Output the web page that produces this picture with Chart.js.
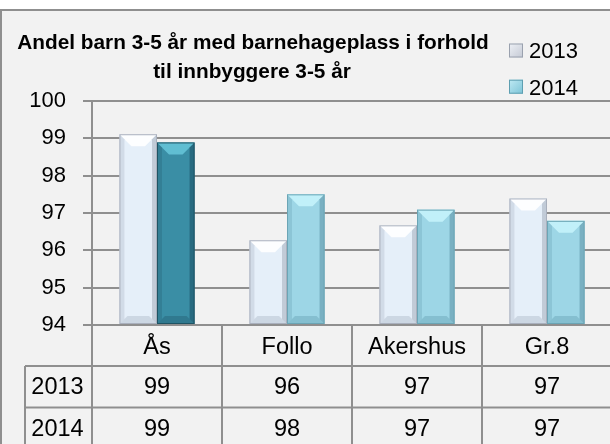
<!DOCTYPE html>
<html>
<head>
<meta charset="utf-8">
<script src="https://cdn.jsdelivr.net/npm/chart.js@4/dist/chart.umd.min.js"></script>
<style>
html,body{margin:0;padding:0;overflow:hidden;background:#fff;}
#wrap{width:612px;height:444px;position:relative;}
</style>
</head>
<body>
<div id="wrap"><canvas id="c"></canvas></div>
<script>
const categories = ['Ås', 'Follo', 'Akershus', 'Gr.8'];
const seriesNames = ['2013', '2014'];
const values2013 = [99.11, 96.27, 96.67, 97.39];
const values2014 = [98.89, 97.50, 97.09, 96.79];
const table2013 = ['99', '96', '97', '97'];
const table2014 = ['99', '98', '97', '97'];
const titleLines = ['Andel barn 3-5 år med barnehageplass i forhold', 'til innbyggere 3-5 år'];
const yMin = 94, yMax = 100, yStep = 1;

const GRID = '#8f8f8f';
const FONT = "'Liberation Sans', Arial, sans-serif";

const bgPlugin = {
  id: 'bg',
  beforeDraw(chart) {
    const ctx = chart.ctx, w = chart.width, h = chart.height;
    ctx.save();
    ctx.fillStyle = '#ffffff';
    ctx.fillRect(0, 0, w, h);
    ctx.fillStyle = '#f2f2f2';
    ctx.fillRect(0, 10, w, h - 10);
    ctx.strokeStyle = GRID;
    ctx.lineWidth = 2;
    ctx.beginPath();
    ctx.moveTo(0, 10); ctx.lineTo(w, 10);
    ctx.moveTo(1, 10); ctx.lineTo(1, h);
    ctx.stroke();
    ctx.restore();
  }
};

function bevel(ctx, L, R, T, B, topCol, leftCol, rightCol, botCol) {
  const t = Math.min(12, (B - T) / 2), s = 5, bb = 8;
  ctx.fillStyle = topCol;
  ctx.beginPath();
  ctx.moveTo(L, T); ctx.lineTo(R, T); ctx.lineTo(R - t, T + t); ctx.lineTo(L + t, T + t);
  ctx.closePath(); ctx.fill();
  ctx.fillStyle = leftCol;
  ctx.beginPath();
  ctx.moveTo(L, T); ctx.lineTo(L + s, T + s); ctx.lineTo(L + s, B - s); ctx.lineTo(L, B);
  ctx.closePath(); ctx.fill();
  ctx.fillStyle = rightCol;
  ctx.beginPath();
  ctx.moveTo(R, T); ctx.lineTo(R - s, T + s); ctx.lineTo(R - s, B - s); ctx.lineTo(R, B);
  ctx.closePath(); ctx.fill();
  ctx.fillStyle = botCol;
  ctx.beginPath();
  ctx.moveTo(L, B); ctx.lineTo(R, B); ctx.lineTo(R - bb, B - bb); ctx.lineTo(L + bb, B - bb);
  ctx.closePath(); ctx.fill();
}

const bevelPlugin = {
  id: 'bevel',
  afterDatasetsDraw(chart) {
    const ctx = chart.ctx;
    const area = chart.chartArea;
    ctx.save();
    ctx.beginPath();
    ctx.rect(area.left, area.top - 2, area.right - area.left, area.bottom - area.top + 2);
    ctx.clip();
    chart.data.datasets.forEach((ds, di) => {
      const meta = chart.getDatasetMeta(di);
      meta.data.forEach((bar, i) => {
        const p = bar.getProps(['x', 'y', 'base', 'width'], true);
        const L = p.x - p.width / 2, R = p.x + p.width / 2, T = p.y, B = Math.min(p.base, area.bottom);
        if (di === 0) {
          bevel(ctx, L, R, T, B, 'rgba(255,255,255,0.9)', 'rgba(120,130,150,0.18)', 'rgba(100,110,130,0.28)', 'rgba(120,130,150,0.22)');
        } else if (i === 0) {
          bevel(ctx, L, R, T, B, 'rgba(110,205,225,0.75)', 'rgba(20,60,80,0.18)', 'rgba(10,40,60,0.35)', 'rgba(20,60,80,0.25)');
        } else {
          bevel(ctx, L, R, T, B, 'rgba(200,245,252,0.85)', 'rgba(40,100,120,0.14)', 'rgba(30,80,100,0.28)', 'rgba(40,100,120,0.2)');
        }
        ctx.strokeStyle = di === 0 ? '#a9b0bd' : (i === 0 ? '#1e5464' : '#6ba5b5');
        ctx.lineWidth = 1;
        ctx.strokeRect(L + 0.5, T + 0.5, R - L - 1, B - T - 1);
      });
    });
    ctx.restore();
  }
};

const overlayPlugin = {
  id: 'overlay',
  afterDraw(chart) {
    const ctx = chart.ctx;
    const xs = chart.scales.x;
    const area = chart.chartArea;
    const w = chart.width, h = chart.height;
    const catW = (area.right - area.left) / categories.length;
    const axisY = area.bottom;
    const row1 = axisY + 41;
    const row2 = row1 + 41.6;
    const tableLeft = 25;
    ctx.save();
    ctx.strokeStyle = GRID;
    ctx.lineWidth = 2;
    ctx.beginPath();
    for (let i = 0; i <= categories.length; i++) {
      const x = area.left + i * catW;
      ctx.moveTo(x, axisY); ctx.lineTo(x, h);
    }
    ctx.moveTo(tableLeft, row1); ctx.lineTo(tableLeft, h);
    ctx.moveTo(tableLeft, row1); ctx.lineTo(w, row1);
    ctx.moveTo(tableLeft, row2); ctx.lineTo(w, row2);
    ctx.stroke();
    ctx.fillStyle = '#000';
    ctx.textAlign = 'center';
    ctx.textBaseline = 'alphabetic';
    ctx.font = '23.5px ' + FONT;
    categories.forEach((c, i) => {
      const x = xs.getPixelForValue(i);
      ctx.fillText(c, x, axisY + 28.5);
      ctx.fillText(table2013[i], x, row1 + 27.5);
      ctx.fillText(table2014[i], x, row2 + 28.3);
    });
    ctx.fillText(seriesNames[0], (tableLeft + area.left) / 2 - 1, row1 + 27.5);
    ctx.fillText(seriesNames[1], (tableLeft + area.left) / 2 - 1, row2 + 28.3);
    ctx.font = 'bold 20.8px ' + FONT;
    ctx.fillText(titleLines[0], 253, 48.7);
    ctx.fillText(titleLines[1], 252, 78.3);
    const leg = [
      {y: 50.5, c1: '#eef1f6', c2: '#c4c9d4', b: '#9aa1ae'},
      {y: 86.7, c1: '#bfeaf4', c2: '#7cc3d6', b: '#5e9fb1'}
    ];
    ctx.font = '22px ' + FONT;
    ctx.textAlign = 'left';
    leg.forEach((l, i) => {
      const g = ctx.createLinearGradient(509, l.y - 7, 523, l.y + 7);
      g.addColorStop(0, l.c1); g.addColorStop(1, l.c2);
      ctx.fillStyle = g;
      ctx.fillRect(509, l.y - 7, 14, 14);
      ctx.strokeStyle = l.b; ctx.lineWidth = 1;
      ctx.strokeRect(509.5, l.y - 6.5, 13, 13);
      ctx.fillStyle = '#000';
      ctx.fillText(seriesNames[i], 529, l.y + 7.8);
    });
    ctx.restore();
  }
};

new Chart(document.getElementById('c'), {
  type: 'bar',
  data: {
    labels: categories,
    datasets: [
      {
        label: seriesNames[0],
        data: values2013,
        base: yMin,
        backgroundColor: '#e5eff9',
        borderWidth: 0,
        categoryPercentage: 0.578,
        barPercentage: 1.0
      },
      {
        label: seriesNames[1],
        data: values2014,
        base: yMin,
        backgroundColor: ['#3a8ea5', '#9dd6e6', '#9dd6e6', '#9dd6e6'],
        borderWidth: 0,
        categoryPercentage: 0.578,
        barPercentage: 1.0
      }
    ]
  },
  options: {
    responsive: true,
    maintainAspectRatio: false,
    animation: false,
    devicePixelRatio: 1,
    layout: {padding: {top: 101, left: 0, right: 0, bottom: 0}},
    plugins: {legend: {display: false}, title: {display: false}, tooltip: {enabled: false}},
    scales: {
      x: {
        grid: {display: false, drawTicks: false},
        border: {display: true, color: GRID, width: 2},
        ticks: {display: false},
        afterFit(scale) { scale.height = 119; }
      },
      y: {
        min: yMin, max: yMax,
        ticks: {stepSize: yStep, color: '#000', font: {family: FONT, size: 22}, padding: 17},
        grid: {color: GRID, lineWidth: 2, tickLength: 9, drawTicks: true},
        border: {display: true, color: GRID, width: 2},
        afterFit(scale) { scale.width = 92; }
      }
    }
  },
  plugins: [bgPlugin, bevelPlugin, overlayPlugin]
});
</script>
</body>
</html>
